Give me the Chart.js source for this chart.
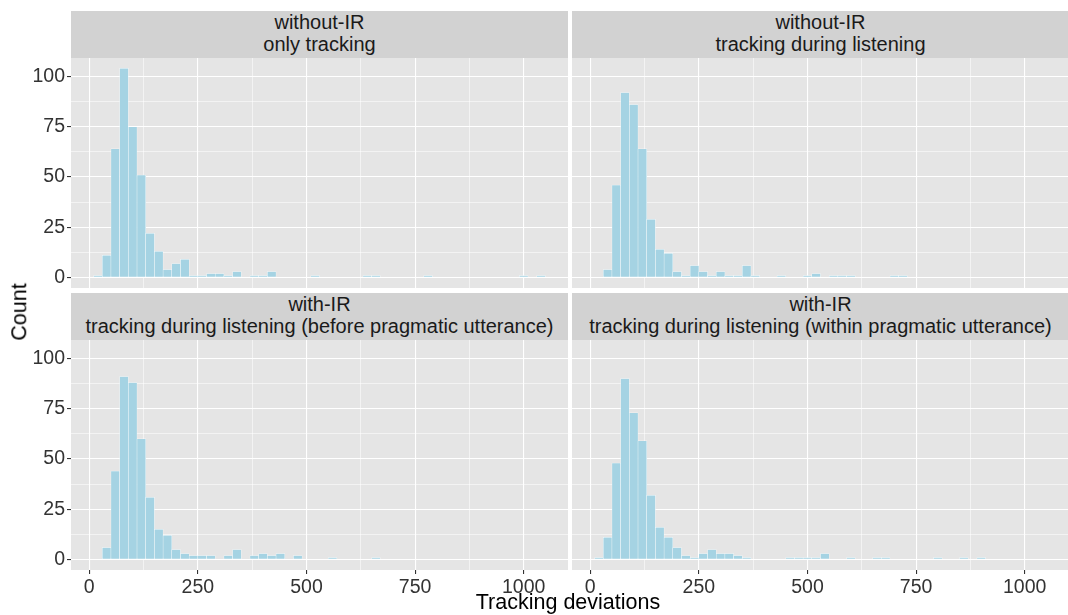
<!DOCTYPE html>
<html><head><meta charset="utf-8">
<script src="https://cdn.jsdelivr.net/npm/chart.js@4/dist/chart.umd.min.js"></script>
<style>
body{margin:0;background:#fff;width:1068px;height:615px;overflow:hidden;position:relative;font-family:"Liberation Sans",Arial,sans-serif;}
canvas{position:absolute;}
.strip{position:absolute;background:#D2D2D2;color:#1A1A1A;font-size:20px;line-height:21.5px;text-align:center;box-sizing:border-box;padding-top:1.3px;white-space:nowrap;}
.title{position:absolute;color:#000;font-size:21.5px;line-height:21.5px;white-space:nowrap;}
</style></head><body>
<script>
// ---- data ----
const binCenters = [20,40,60,80,100,120,140,160,180,200,220,240,260,280,300,320,340,360,380,400,420,440,460,480,500,520,540,560,580,600,620,640,660,680,700,720,740,760,780,800,820,840,860,880,900,920,940,960,980,1000,1020,1040];
const countsOnlyTracking = [1,11,64,104,75,51,22,13,4,7, 9,1,1,2,2,1,3,0,1,1, 3,0,0,0,0,1,0,0,0,0, 0,1,1,0,0,0,0,0,1,0, 0,0,0,0,0,0,0,0,0,1, 0,1];
const countsDuringListening = [0,4,46,92,86,64,29,14,12,3, 1,6,3,1,3,1,1,6,1,0, 0,1,0,0,1,2,0,1,1,1, 0,0,0,0,1,1,0,0,0,0, 0,0,0,0,0,0,0,0,0,0, 0,0];
const countsBeforeUtterance = [0,6,44,91,88,60,31,15,12,5, 3,2,2,2,0,2,5,0,2,3, 2,3,0,2,0,0,0,1,0,0, 0,0,1,0,0,0,0,0,0,0, 0,0,0,0,0,0,0,0,0,0, 0,0];
const countsWithinUtterance = [1,11,48,90,73,59,32,16,11,6, 2,1,3,5,3,3,2,1,0,0, 0,0,1,1,1,1,3,0,0,1, 0,0,1,1,0,0,0,0,0,1, 0,0,1,0,1,0,0,0,0,0, 0,0];
const panelTitles = [
  ["without-IR","only tracking"],
  ["without-IR","tracking during listening"],
  ["with-IR","tracking during listening (before pragmatic utterance)"],
  ["with-IR","tracking during listening (within pragmatic utterance)"]
];
const xMajorTicks = [0,250,500,750,1000];
const xMinorTicks = [125,375,625,875];
const yMajorTicks = [0,25,50,75,100];
const yMinorTicks = [12.5,37.5,62.5,87.5];
const xRange = [-42,1102];
const yRange = [-5.2,109.2];
const xTitle = "Tracking deviations";
const yTitle = "Count";

// ---- layout ----
Chart.defaults.font.family = '"Liberation Sans", Arial, sans-serif';
const PW = 497, PH = 230;
const layout = [
  {counts: countsOnlyTracking, title: panelTitles[0], left:0, top:58, axisW:71, showY:true, showX:false, stripTop:11},
  {counts: countsDuringListening, title: panelTitles[1], left:572, top:58, axisW:0, showY:false, showX:false, stripTop:11},
  {counts: countsBeforeUtterance, title: panelTitles[2], left:0, top:340, axisW:71, showY:true, showX:true, stripTop:293},
  {counts: countsWithinUtterance, title: panelTitles[3], left:572, top:340, axisW:0, showY:false, showX:true, stripTop:293}
];
const xTicksAll = [...xMajorTicks, ...xMinorTicks].sort((a,b)=>a-b);
const yTicksAll = [...yMajorTicks, ...yMinorTicks].sort((a,b)=>a-b);
const isMaj = (arr, v) => arr.includes(v);

const bgPlugin = {id:'panelBg', beforeDraw(chart){
  const {ctx, chartArea:a} = chart;
  ctx.save(); ctx.fillStyle = '#E5E5E5';
  ctx.fillRect(a.left, a.top, a.right-a.left, a.bottom-a.top);
  ctx.restore();
}};

layout.forEach(p => {
  const xAxisH = p.showX ? 32 : 0;
  const w = p.axisW + PW, h = PH + xAxisH;
  const cv = document.createElement('canvas');
  cv.width = w; cv.height = h;
  cv.style.left = p.left + 'px'; cv.style.top = p.top + 'px';
  cv.style.width = w + 'px'; cv.style.height = h + 'px';
  document.body.appendChild(cv);

  const strip = document.createElement('div');
  strip.className = 'strip';
  strip.style.left = (p.left + p.axisW) + 'px';
  strip.style.top = p.stripTop + 'px';
  strip.style.width = PW + 'px';
  strip.style.height = '47px';
  strip.innerHTML = p.title.map(t => '<div>' + t + '</div>').join('');
  document.body.appendChild(strip);

  new Chart(cv, {
    type: 'bar',
    data: { datasets: [{
      data: binCenters.map((c, i) => ({x: c, y: p.counts[i]})),
      backgroundColor: '#A5D3E3',
      borderColor: 'rgba(255,255,255,0.9)',
      borderWidth: 0.5,
      borderSkipped: false,
      barPercentage: 1,
      categoryPercentage: 1
    }]},
    options: {
      responsive: false, animation: false, devicePixelRatio: 1,
      layout: {padding: 0},
      plugins: {legend: {display: false}, tooltip: {enabled: false}},
      scales: {
        x: {
          type: 'linear', min: xRange[0], max: xRange[1], offset: false,
          afterBuildTicks(s){ s.ticks = xTicksAll.map(v => ({value: v})); },
          afterFit(s){ s.height = xAxisH; s.paddingLeft = 0; s.paddingRight = 0; s.paddingTop = 0; s.paddingBottom = 0; },
          border: {display: false},
          grid: {
            offset: false, color: '#FFFFFF',
            lineWidth: c => isMaj(xMajorTicks, c.tick.value) ? 1.1 : 0.55,
            drawTicks: p.showX, tickLength: 4,
            tickWidth: 1.1,
            tickColor: c => isMaj(xMajorTicks, c.tick.value) ? '#333333' : 'rgba(0,0,0,0)'
          },
          ticks: {
            display: p.showX, autoSkip: false, maxRotation: 0, minRotation: 0,
            padding: 2, color: '#333333', font: {size: 19.5},
            callback: v => isMaj(xMajorTicks, v) ? String(v) : ''
          }
        },
        y: {
          type: 'linear', min: yRange[0], max: yRange[1], beginAtZero: false,
          afterBuildTicks(s){ s.ticks = yTicksAll.map(v => ({value: v})); },
          afterFit(s){ s.width = p.axisW; s.paddingLeft = 0; s.paddingRight = 0; s.paddingTop = 0; s.paddingBottom = 0; },
          border: {display: false},
          grid: {
            color: '#FFFFFF',
            lineWidth: c => isMaj(yMajorTicks, c.tick.value) ? 1.1 : 0.55,
            drawTicks: p.showY, tickLength: 4,
            tickWidth: 1.1,
            tickColor: c => isMaj(yMajorTicks, c.tick.value) ? '#333333' : 'rgba(0,0,0,0)'
          },
          ticks: {
            display: p.showY, autoSkip: false, padding: 2,
            color: '#333333', font: {size: 19.5},
            callback: v => isMaj(yMajorTicks, v) ? String(v) : ''
          }
        }
      }
    },
    plugins: [bgPlugin]
  });
});

const xt = document.createElement('div');
xt.className = 'title'; xt.textContent = xTitle;
xt.style.left = '568px'; xt.style.top = '592px'; xt.style.transform = 'translateX(-50%)';
document.body.appendChild(xt);
const yt = document.createElement('div');
yt.className = 'title'; yt.textContent = yTitle;
yt.style.left = '20px'; yt.style.top = '312px';
yt.style.transform = 'translate(-50%,-50%) rotate(-90deg)';
document.body.appendChild(yt);
</script>
</body></html>
